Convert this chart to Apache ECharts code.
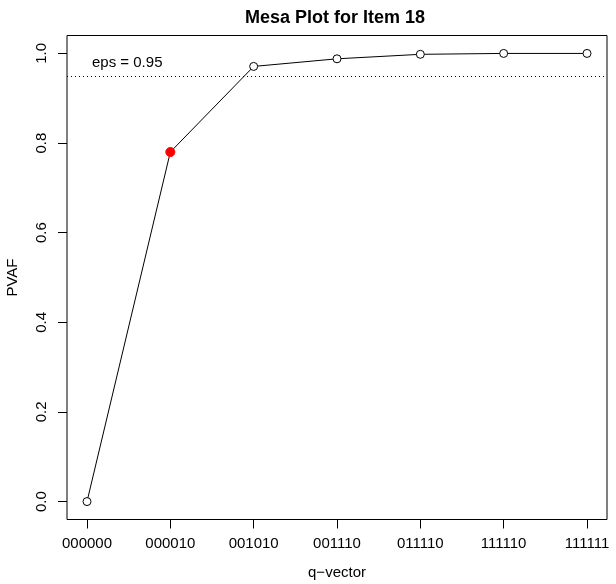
<!DOCTYPE html>
<html>
<head>
<meta charset="utf-8">
<script src="https://cdn.jsdelivr.net/npm/echarts@6/dist/echarts.min.js"></script>
<style>
  html, body { margin: 0; padding: 0; background: #fff; }
  #chart { width: 616px; height: 584px; }
</style>
</head>
<body>
<div id="chart"></div>
<script>
// ---- data ----
const categories = ['000000', '000010', '001010', '001110', '011110', '111110', '111111'];
const pvaf = [0.0, 0.780, 0.971, 0.988, 0.998, 1.0, 1.0];
const selectedIndex = 1;
const eps = 0.95;
const yTicks = [0, 0.2, 0.4, 0.6, 0.8, 1.0];

const FONT = '"Liberation Sans", Arial, Helvetica, sans-serif';
const chart = echarts.init(document.getElementById('chart'), null, { renderer: 'canvas' });

const xTicks = categories.map((c, i) => i);
const seriesData = pvaf.map((v, i) => i === selectedIndex
  ? { value: [i, v], symbolSize: 9, itemStyle: { color: '#ff0000', borderColor: '#ff0000', borderWidth: 1 } }
  : { value: [i, v] });

// R-style 4% axis expansion
const xPad = (categories.length - 1) * 0.04;
const yPad = (Math.max(...yTicks) - Math.min(...yTicks)) * 0.04;

const option = {
  backgroundColor: '#fff',
  animation: false,
  title: {
    text: 'Mesa Plot for Item 18',
    left: 330, top: 4, textAlign: 'center',
    textStyle: { fontFamily: FONT, fontSize: 18, fontWeight: 'bold', color: '#000' }
  },
  grid: { left: 67, right: 9, top: 35.5, bottom: 64.5, containLabel: false, outerBoundsMode: 'none',
    show: true, borderColor: '#000', borderWidth: 1, backgroundColor: 'transparent' },
  xAxis: {
    type: 'value', min: -xPad, max: categories.length - 1 + xPad,
    axisLine: { show: false, onZero: false },
    axisTick: { show: true, customValues: xTicks, length: 9, lineStyle: { color: '#000', width: 1 } },
    axisLabel: { customValues: xTicks, margin: 17, color: '#000', fontSize: 15, fontFamily: FONT,
      formatter: v => categories[Math.round(v)] },
    splitLine: { show: false },
    name: 'q\u2212vector', nameLocation: 'middle', nameGap: 46,
    nameTextStyle: { color: '#000', fontSize: 15, fontFamily: FONT }
  },
  yAxis: {
    type: 'value', min: Math.min(...yTicks) - yPad, max: Math.max(...yTicks) + yPad,
    axisLine: { show: false, onZero: false },
    axisTick: { show: true, customValues: yTicks, length: 9, lineStyle: { color: '#000', width: 1 } },
    axisLabel: { customValues: yTicks, rotate: 90, margin: 18, color: '#000', fontSize: 15, fontFamily: FONT,
      formatter: v => v.toFixed(1) },
    splitLine: { show: false },
    name: 'PVAF', nameLocation: 'middle', nameGap: 47, nameRotate: 90,
    nameTextStyle: { color: '#000', fontSize: 15, fontFamily: FONT }
  },
  series: [
    {
      type: 'line',
      data: seriesData,
      symbol: 'circle', symbolSize: 8, showSymbol: true,
      lineStyle: { color: '#000', width: 1 },
      itemStyle: { color: '#fff', borderColor: '#000', borderWidth: 1 },
      markLine: {
        silent: true, symbol: 'none',
        lineStyle: { type: [1, 3], color: '#000', width: 1 },
        label: {
          show: true, position: 'insideStartTop', formatter: 'eps = ' + eps.toFixed(2),
          color: '#000', fontSize: 15, fontFamily: FONT, distance: [25, 5]
        },
        data: [{ yAxis: eps }]
      }
    }
  ]
};
chart.setOption(option);
</script>
</body>
</html>
